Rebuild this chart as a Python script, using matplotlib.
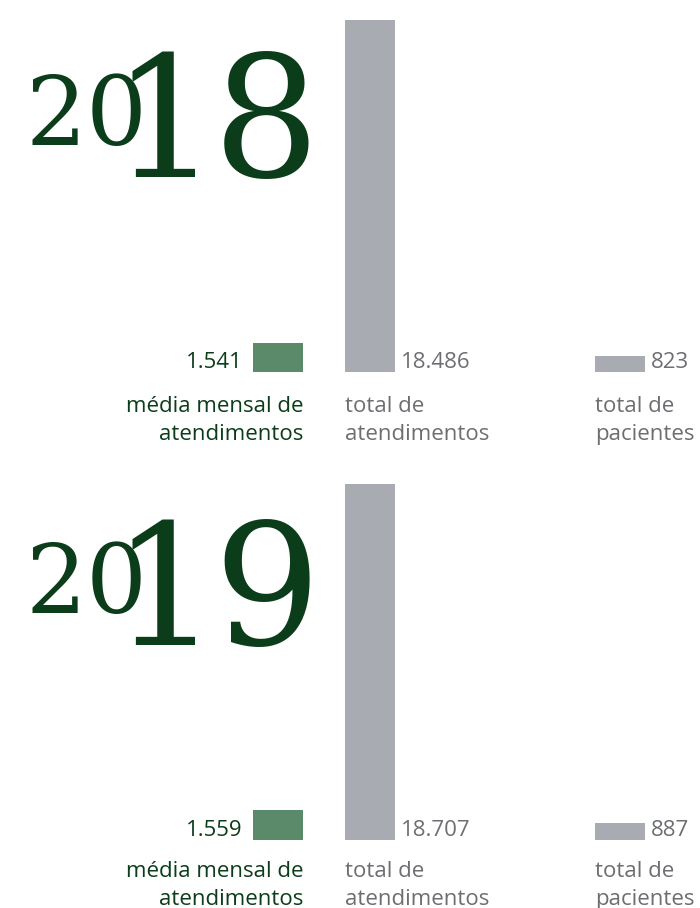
import matplotlib
matplotlib.use('Agg')
import matplotlib.pyplot as plt

years = ['2018', '2019']
media_mensal = [1541, 1559]
total_atendimentos = [18486, 18707]
total_pacientes = [823, 887]
labels = [['média mensal de', 'atendimentos'],
          ['total de', 'atendimentos'],
          ['total de', 'pacientes']]

dark_green = '#0b3d1a'
bar_green = '#5a8a6a'
bar_gray = '#a9abb3'
text_gray = '#6d6e71'

W, H = 700, 908
px_per_unit = 352 / 18486
panel_h = 372   # pixel height of each bar axes
baselines = [372, 840]

fig = plt.figure(figsize=(W / 100, H / 100), dpi=100)

def fpos(x, y):
    return x / W, 1 - y / H

sans = 'Open Sans'
fs = 16
serif = 'DejaVu Serif'

for i, year in enumerate(years):
    base = baselines[i]
    ax = fig.add_axes([0, 1 - base / H, 1, panel_h / H])
    ax.set_xlim(0, W)
    ax.set_ylim(0, panel_h / px_per_unit)
    ax.axis('off')

    vals = [media_mensal[i], total_atendimentos[i], total_pacientes[i]]
    xs = [278, 370, 620]
    colors = [bar_green, bar_gray, bar_gray]
    ax.bar(xs, vals, width=50, color=colors)

    # value labels, sitting on the bar baseline
    vlab = [f"{v:,}".replace(',', '.') for v in vals]
    ly = 4.5 / px_per_unit
    ax.text(xs[0] - 35, ly, vlab[0], ha='right', va='baseline', fontsize=fs,
            family=sans, color=dark_green)
    ax.text(xs[1] + 31, ly, vlab[1], ha='left', va='baseline',
            fontsize=fs, family=sans, color=text_gray)
    ax.text(xs[2] + 31, ly, vlab[2], ha='left', va='baseline',
            fontsize=fs, family=sans, color=text_gray)

    # category labels under the bars
    lb = base + 40 if i == 0 else base + 37
    anchors = [(303, 'right', dark_green), (345, 'left', text_gray),
               (595, 'left', text_gray)]
    for (lx, ha, col), lines in zip(anchors, labels):
        for k, line in enumerate(lines):
            x, y = fpos(lx, lb + 28 * k)
            fig.text(x, y, line, ha=ha, va='baseline', fontsize=fs,
                     family=sans, color=col)

    # year: small "20" then the large last two digits
    off = base - 372
    x, y = fpos(26, 145 + off)
    fig.text(x, y, year[:2], ha='left', va='baseline', fontsize=69,
             family=serif, color=dark_green)
    x, y = fpos(112, 177 + off)
    fig.text(x, y, year[2], ha='left', va='baseline', fontsize=121,
             family=serif, color=dark_green)
    x, y = fpos(213, 177 + off)
    fig.text(x, y, year[3], ha='left', va='baseline', fontsize=121,
             family=serif, color=dark_green)

fig.savefig('out.png', dpi=100, facecolor='white')
